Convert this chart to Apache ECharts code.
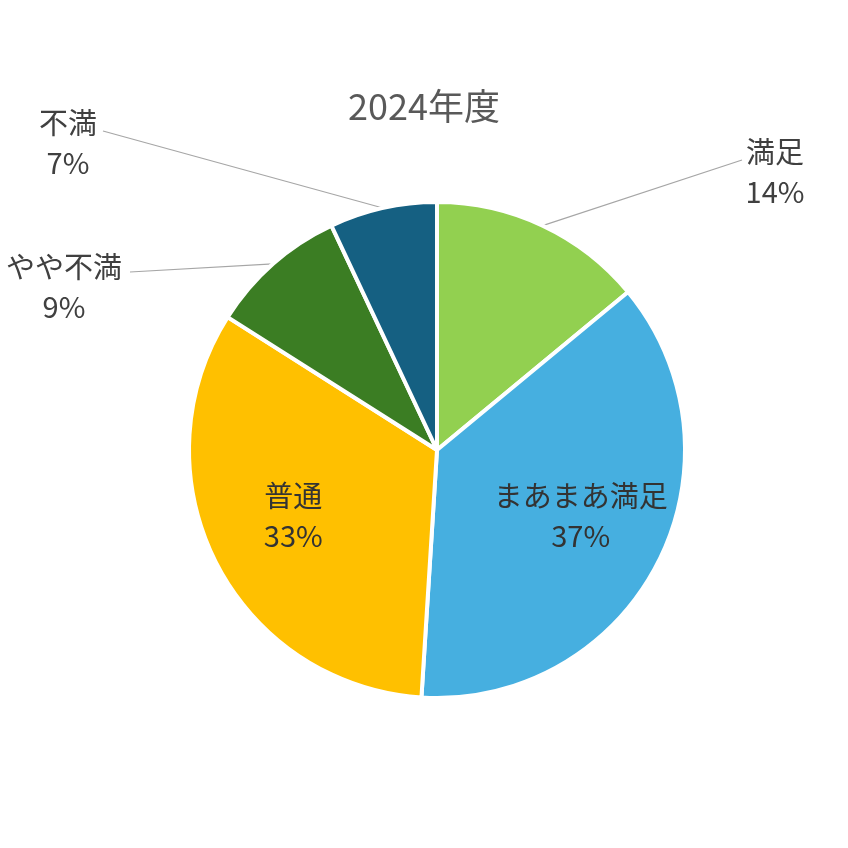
<!DOCTYPE html>
<html>
<head>
<meta charset="utf-8">
<title>2024年度</title>
<script src="https://cdn.jsdelivr.net/npm/echarts@6/dist/echarts.min.js"></script>
<style>
  html, body { margin: 0; padding: 0; background: #fff; }
  #main { width: 848px; height: 848px; }
</style>
</head>
<body>
<div id="main"></div>
<script>
// データ
var names  = ['満足', 'まあまあ満足', '普通', 'やや不満', '不満'];
var values = [14, 37, 33, 9, 7];
var colors = ['#92D050', '#46AFE0', '#FFC000', '#3B7D23', '#156082'];
var insideNames = ['まあまあ満足', '普通'];

// 円の位置と大きさ(px)
var CX = 437, CY = 450, R = 248;
// 外側ラベルの置き場所: ラベル中心x, 上端y, 引出線の終点
var outerPos = {
  '満足':     {x: 775, y: 132, lx: 742, ly: 160},
  'やや不満': {x: 64,  y: 247, lx: 130, ly: 272},
  '不満':     {x: 68,  y: 103, lx: 103, ly: 131}
};
var FONT = '"Noto Sans CJK JP", "Noto Sans", sans-serif';

var pieData = [];
for (var i = 0; i < names.length; i++) {
  var inside = insideNames.indexOf(names[i]) >= 0;
  pieData.push({
    name: names[i],
    value: values[i],
    itemStyle: { color: colors[i] },
    label: { position: inside ? 'inside' : 'outside', color: inside ? '#333333' : '#404040' },
    labelLine: { show: !inside }
  });
}

var myChart = echarts.init(document.getElementById('main'), null, { renderer: 'canvas' });
var option = {
  backgroundColor: '#ffffff',
  animation: false,
  title: {
    text: '2024年度',
    left: 'center',
    top: 88,
    padding: 0,
    textStyle: { fontFamily: FONT, fontSize: 36, fontWeight: 'normal', color: '#595959' }
  },
  series: [{
    type: 'pie',
    center: [CX, CY],
    radius: R,
    startAngle: 90,
    clockwise: true,
    avoidLabelOverlap: false,
    silent: true,
    itemStyle: { borderColor: '#ffffff', borderWidth: 4 },
    label: {
      formatter: function (p) { return p.name + '\n' + p.value + '%'; },
      fontFamily: FONT,
      fontSize: 29,
      lineHeight: 40,
      align: 'center'
    },
    labelLine: {
      length: 20,
      length2: 20,
      lineStyle: { color: '#A6A6A6', width: 1.2 }
    },
    labelLayout: function (p) {
      var name = names[p.dataIndex];
      var pos = outerPos[name];
      if (pos) {
        return {
          x: pos.x,
          y: pos.y,
          align: 'center',
          verticalAlign: 'top',
          labelLinePoints: [p.labelLinePoints[0], [pos.lx, pos.ly]]
        };
      }
      // 内側ラベルは半径の約0.63倍の位置へ
      var mx = p.labelRect.x + p.labelRect.width / 2;
      var my = p.labelRect.y + p.labelRect.height / 2;
      return { dx: (mx - CX) * 0.27, dy: (my - CY) * 0.27 - 7 };
    },
    data: pieData
  }]
};
myChart.setOption(option);
</script>
</body>
</html>
